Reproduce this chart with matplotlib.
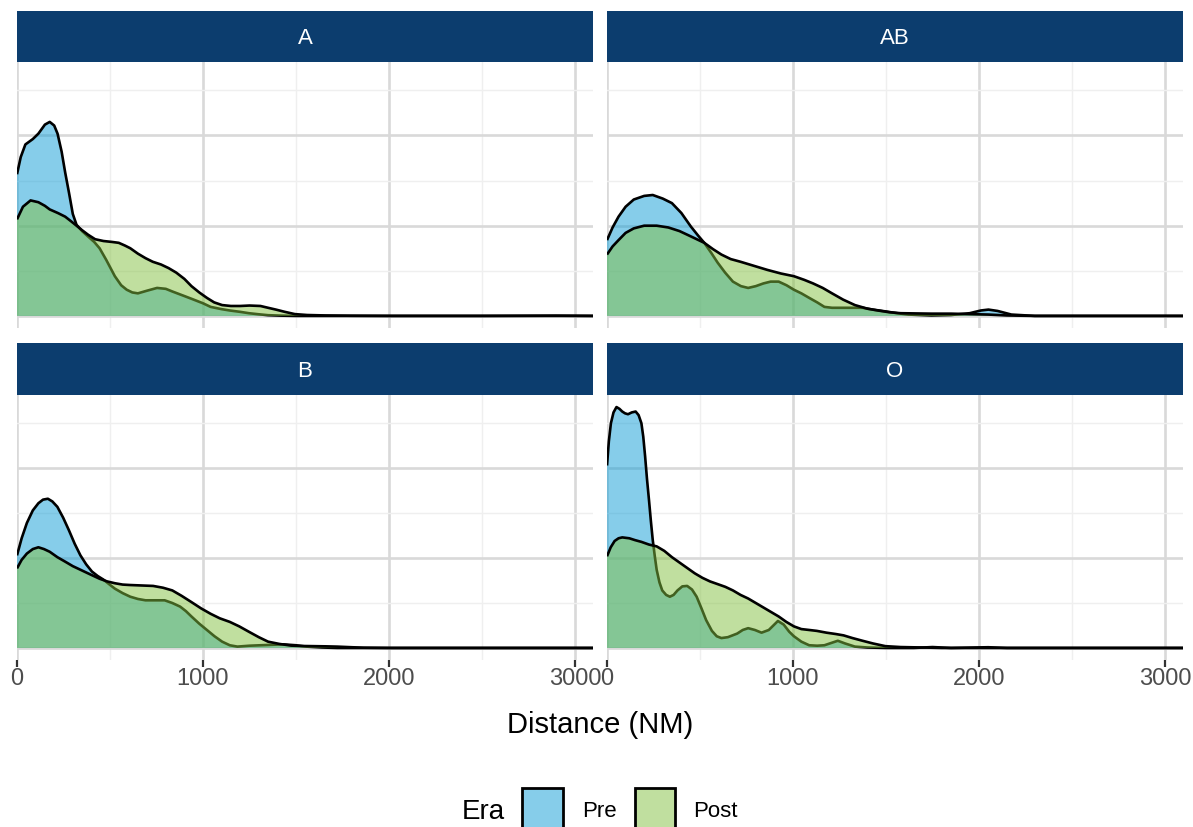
import matplotlib
matplotlib.use("Agg")
import matplotlib.pyplot as plt
from matplotlib.patches import Rectangle

plt.rcParams['font.family'] = ['Liberation Sans', 'DejaVu Sans']

# ---------------- data (density, in units of 1e-3 per NM) ----------------
facets = ["A", "AB", "B", "O"]
eras = ["Pre", "Post"]
era_colors = ["#0F9DD7", "#83C141"]
fill_alpha = 0.5
x_ticks = [0, 1000, 2000, 3000]
x_tick_labels = ["0", "1000", "2000", "3000"]
x_max = 3097

a_pre_x = [0, 20, 45, 85, 115, 150, 176, 200, 218, 240, 259, 280, 300, 320, 350, 382, 415, 444, 480, 526, 560,
           590, 620, 650, 700, 753, 800, 836, 900, 938, 1000, 1041, 1100, 1144, 1200, 1247, 1300, 1350, 1420,
           1500, 2000, 2500, x_max]
a_pre_y = [1.57, 1.76, 1.90, 1.96, 2.02, 2.12, 2.15, 2.11, 2.02, 1.82, 1.59, 1.36, 1.13, 1.01, 0.94, 0.88, 0.82,
           0.75, 0.62, 0.44, 0.34, 0.29, 0.26, 0.25, 0.28, 0.31, 0.30, 0.27, 0.22, 0.19, 0.14, 0.10, 0.075, 0.06,
           0.045, 0.03, 0.018, 0.008, 0.003, 0.0, 0.0, 0.0, 0.0]
a_post_x = [0, 32, 73, 115, 150, 176, 220, 259, 290, 320, 350, 382, 420, 465, 510, 547, 580, 609, 650, 691, 730,
            774, 815, 856, 900, 938, 980, 1021, 1060, 1103, 1150, 1200, 1250, 1309, 1350, 1392, 1440, 1494, 1560,
            1659, 1800, 2000, 2500, 2900, x_max]
a_post_y = [1.07, 1.21, 1.28, 1.26, 1.22, 1.18, 1.14, 1.10, 1.05, 1.00, 0.95, 0.90, 0.85, 0.83, 0.82, 0.81, 0.78,
            0.75, 0.69, 0.64, 0.60, 0.57, 0.53, 0.48, 0.41, 0.33, 0.26, 0.20, 0.15, 0.12, 0.11, 0.11, 0.115, 0.11,
            0.09, 0.07, 0.045, 0.02, 0.01, 0.005, 0.002, 0.0, 0.0, 0.003, 0.0]

ab_pre_x = [0, 30, 62, 100, 144, 200, 246, 300, 349, 400, 451, 490, 523, 560, 595, 635, 677, 720, 759, 800, 841,
            880, 923, 965, 1005, 1045, 1087, 1130, 1169, 1210, 1251, 1310, 1374, 1430, 1497, 1560, 1621, 1744,
            1850, 1950, 2010, 2051, 2100, 2174, 2300, 2500, x_max]
ab_pre_y = [0.84, 0.98, 1.10, 1.21, 1.29, 1.33, 1.34, 1.30, 1.25, 1.14, 0.99, 0.89, 0.81, 0.70, 0.59, 0.48, 0.38,
            0.33, 0.31, 0.33, 0.36, 0.38, 0.38, 0.34, 0.29, 0.25, 0.20, 0.15, 0.10, 0.09, 0.09, 0.09, 0.09, 0.07,
            0.05, 0.03, 0.015, 0.005, 0.01, 0.03, 0.06, 0.07, 0.055, 0.015, 0.0, 0.0, 0.0]
ab_post_x = [0, 30, 62, 100, 144, 200, 267, 330, 390, 452, 523, 570, 615, 665, 718, 790, 862, 935, 1005, 1060,
             1108, 1160, 1210, 1270, 1333, 1400, 1456, 1520, 1579, 1744, 1850, 1950, 2050, 2150, 2300, 2500, x_max]
ab_post_y = [0.68, 0.77, 0.84, 0.92, 0.97, 1.00, 1.00, 0.98, 0.94, 0.88, 0.81, 0.74, 0.68, 0.63, 0.60, 0.555,
             0.51, 0.47, 0.44, 0.40, 0.36, 0.31, 0.25, 0.18, 0.12, 0.08, 0.06, 0.04, 0.03, 0.025, 0.025, 0.02,
             0.015, 0.005, 0.0, 0.0, 0.0]

b_pre_x = [0, 25, 53, 85, 115, 140, 166, 190, 217, 248, 279, 310, 341, 372, 403, 434, 465, 495, 526, 568, 609,
           650, 691, 740, 794, 835, 877, 908, 938, 980, 1021, 1062, 1103, 1144, 1185, 1250, 1309, 1370, 1432, 1500,
           1556, 1640, 1721, 2500, x_max]
b_pre_y = [1.03, 1.22, 1.39, 1.53, 1.61, 1.65, 1.66, 1.63, 1.57, 1.45, 1.31, 1.16, 1.03, 0.93, 0.85, 0.80, 0.76,
           0.71, 0.66, 0.61, 0.57, 0.545, 0.53, 0.53, 0.53, 0.50, 0.46, 0.41, 0.35, 0.27, 0.20, 0.13, 0.07, 0.03,
           0.015, 0.025, 0.03, 0.035, 0.04, 0.03, 0.015, 0.005, 0.0, 0.0, 0.0]
b_post_x = [0, 25, 53, 85, 115, 145, 176, 217, 259, 300, 341, 392, 444, 485, 526, 568, 609, 670, 732, 785, 835,
            885, 938, 990, 1041, 1090, 1144, 1195, 1247, 1300, 1350, 1410, 1474, 1530, 1597, 1660, 1721, 1800,
            1865, 2000, 2500, x_max]
b_post_y = [0.885, 0.98, 1.05, 1.10, 1.12, 1.10, 1.07, 1.01, 0.96, 0.91, 0.87, 0.82, 0.77, 0.74, 0.72, 0.705,
            0.70, 0.695, 0.69, 0.67, 0.64, 0.58, 0.51, 0.44, 0.38, 0.33, 0.29, 0.24, 0.18, 0.12, 0.07, 0.045,
            0.026, 0.022, 0.02, 0.018, 0.015, 0.008, 0.003, 0.0, 0.0, 0.0]

o_pre_x = [0, 10, 21, 35, 51, 67, 82, 97, 113, 133, 154, 170, 185, 195, 205, 215, 226, 236, 246, 257, 267, 282,
           297, 318, 338, 358, 379, 405, 431, 457, 482, 508, 533, 564, 590, 615, 650, 700, 730, 759, 795, 831,
           870, 919, 950, 980, 1005, 1045, 1087, 1130, 1169, 1205, 1241, 1280, 1333, 1400, 1500, 1650, 1750,
           1850, 2050, 2150, 2500, x_max]
o_pre_y = [2.03, 2.30, 2.50, 2.62, 2.68, 2.66, 2.63, 2.61, 2.60, 2.62, 2.63, 2.59, 2.50, 2.35, 2.13, 1.88, 1.64,
           1.41, 1.20, 1.02, 0.87, 0.73, 0.64, 0.59, 0.57, 0.59, 0.64, 0.685, 0.69, 0.65, 0.57, 0.44, 0.31, 0.19,
           0.13, 0.11, 0.12, 0.16, 0.20, 0.22, 0.20, 0.17, 0.20, 0.30, 0.26, 0.18, 0.13, 0.07, 0.03, 0.025, 0.03,
           0.055, 0.08, 0.05, 0.015, 0.005, 0.0, 0.0, 0.01, 0.0, 0.008, 0.0, 0.0, 0.0]
o_post_x = [0, 20, 41, 62, 82, 120, 150, 185, 226, 267, 308, 349, 390, 431, 472, 513, 554, 595, 636, 677, 718,
            759, 800, 841, 882, 923, 964, 1005, 1045, 1087, 1128, 1180, 1230, 1272, 1320, 1374, 1430, 1497, 1579,
            1700, 1800, 2500, x_max]
o_post_y = [1.02, 1.12, 1.19, 1.22, 1.23, 1.22, 1.20, 1.18, 1.15, 1.13, 1.08, 1.01, 0.95, 0.89, 0.83, 0.78,
            0.74, 0.71, 0.68, 0.64, 0.59, 0.55, 0.50, 0.45, 0.40, 0.35, 0.29, 0.24, 0.21, 0.20, 0.19, 0.17, 0.155,
            0.14, 0.11, 0.08, 0.05, 0.02, 0.01, 0.005, 0.0, 0.0, 0.0]

series = {
    "A": [(a_pre_x, a_pre_y), (a_post_x, a_post_y)],
    "AB": [(ab_pre_x, ab_pre_y), (ab_post_x, ab_post_y)],
    "B": [(b_pre_x, b_pre_y), (b_post_x, b_post_y)],
    "O": [(o_pre_x, o_pre_y), (o_post_x, o_post_y)],
}

# ---------------- layout ----------------
W, H = 1193, 827
fig = plt.figure(figsize=(W / 100, H / 100), dpi=100)
fig.patch.set_facecolor("white")


def rect(x0, y0, x1, y1):
    return [x0 / W, 1 - y1 / H, (x1 - x0) / W, (y1 - y0) / H]


col_x = [(17, 593), (607, 1183)]
row_y = [((11, 62), (62, 328)), ((343, 395), (395, 660))]
strip_color = "#0C3D6E"
y_peak = max(max(v) for v in [a_pre_y, a_post_y, ab_pre_y, ab_post_y, b_pre_y, b_post_y, o_pre_y, o_post_y])
ylim = (-0.05 * y_peak, 1.05 * y_peak)

for i, name in enumerate(facets):
    r, c = divmod(i, 2)
    (sy0, sy1), (py0, py1) = row_y[r]
    x0, x1 = col_x[c]
    ax = fig.add_axes(rect(x0, py0, x1, py1))
    ax.set_facecolor("white")
    ax.set_axisbelow(True)
    for z, ((xs, ys), col) in enumerate(zip(series[name], era_colors)):
        rgba = matplotlib.colors.to_rgba(col, fill_alpha)
        ax.fill_between(xs, 0, ys, facecolor=rgba, linewidth=0, zorder=2 + 2 * z)
        ax.plot(xs, ys, color="black", lw=1.9, zorder=3 + 2 * z, solid_joinstyle="round",
                solid_capstyle="butt")
    ax.set_xlim(0, x_max)
    ax.set_ylim(*ylim)
    ax.set_xticks(x_ticks)
    ax.set_xticks([500, 1500, 2500], minor=True)
    ax.set_yticks([0, 1, 2])
    ax.set_yticks([0.5, 1.5, 2.5], minor=True)
    ax.grid(which="major", color="#D9D9D9", lw=1.9)
    ax.grid(which="minor", color="#EFEFEF", lw=1.0)
    for s in ax.spines.values():
        s.set_visible(False)
    ax.tick_params(axis="y", which="both", length=0, labelleft=False)
    ax.tick_params(axis="x", which="minor", length=0)
    if r == 1:
        ax.set_xticklabels(x_tick_labels)
        ax.tick_params(axis="x", which="major", length=5.3, width=1.6, color="#333333",
                       labelsize=17, labelcolor="#4D4D4D", pad=0.5)
    else:
        ax.tick_params(axis="x", which="major", length=0, labelbottom=False)

    sax = fig.add_axes(rect(x0, sy0, x1, sy1))
    sax.set_facecolor(strip_color)
    sax.set_xticks([])
    sax.set_yticks([])
    for s in sax.spines.values():
        s.set_visible(False)
    sax.text(0.5, 0.35, name, color="white", fontsize=16, ha="center", va="baseline",
             transform=sax.transAxes)

fig.text(600 / W, 1 - 733 / H, "Distance (NM)", ha="center", va="baseline", fontsize=21, color="black")

# ---------------- legend ----------------
fig.text(462 / W, 1 - 819 / H, "Era", ha="left", va="baseline", fontsize=20, color="black")
key_x = [522.3, 634.6]
label_x = [582, 693]
for era, col, kx, lx in zip(eras, era_colors, key_x, label_x):
    fig.patches.append(Rectangle((kx / W, 1 - 828.7 / H), 40.7 / W, 40.7 / H, transform=fig.transFigure,
                                 facecolor=matplotlib.colors.to_rgba(col, fill_alpha), edgecolor="black",
                                 linewidth=2.0, clip_on=False))
    fig.text(lx / W, 1 - 816.7 / H, era, ha="left", va="baseline", fontsize=16, color="black")

fig.savefig("out.png", dpi=100, facecolor="white")
